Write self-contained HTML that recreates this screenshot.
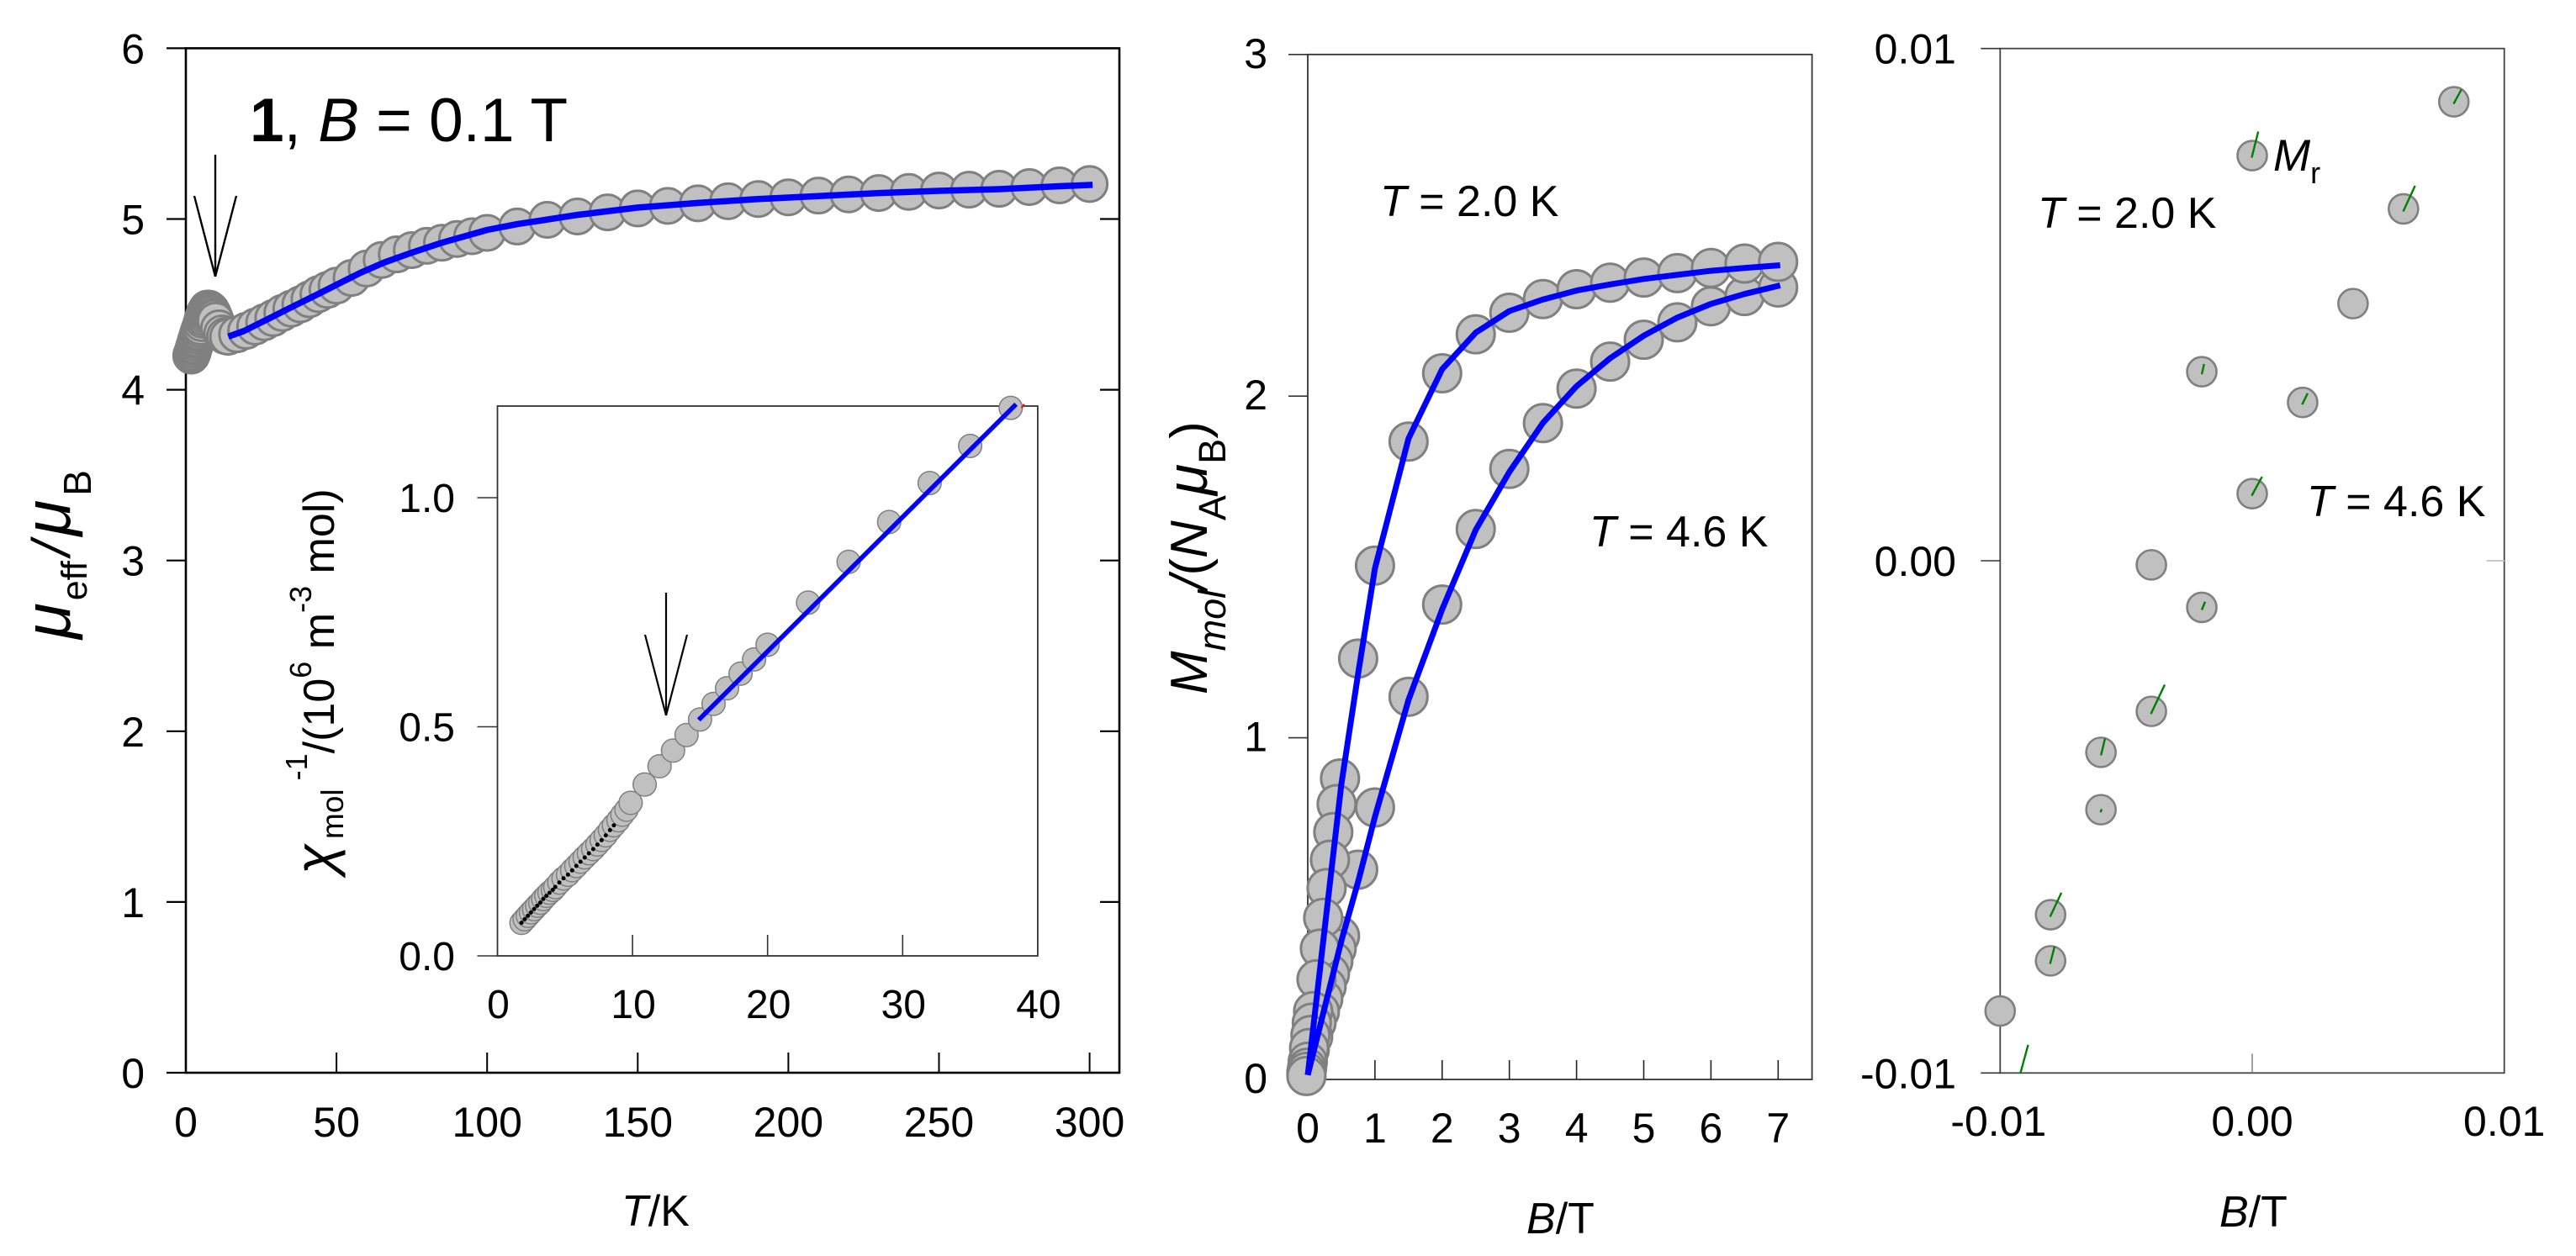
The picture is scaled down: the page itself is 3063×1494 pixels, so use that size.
<!DOCTYPE html>
<html lang="en">
<head>
<meta charset="utf-8">
<title>Magnetic data of compound 1</title>
<style>
html,body{margin:0;padding:0;background:#fff;width:3063px;height:1494px;overflow:hidden}
svg{display:block;font-family:"Liberation Sans",Arial,sans-serif;fill:#000}
text{fill:#000}
</style>
</head>
<body>
<svg id="fig" xmlns="http://www.w3.org/2000/svg" width="3063" height="1494" viewBox="0 0 3063 1494">
  <rect x="0" y="0" width="3063" height="1494" fill="#fff"/>
  <g id="layer-axes"></g>
  <g id="layer-marks"></g>

  <text x="297" y="168" font-size="73"><tspan font-weight="bold">1</tspan>, <tspan font-style="italic">B</tspan> = 0.1 T</text>
  <text x="739" y="1458" font-size="52"><tspan font-style="italic">T</tspan>/K</text>
  <text transform="translate(83,760) rotate(-90)" font-size="78"><tspan font-style="italic">μ</tspan><tspan font-size="43" dx="3" dy="20">eff</tspan><tspan font-size="64" font-style="italic" dx="6" dy="-20">/</tspan><tspan font-style="italic" dx="6">μ</tspan><tspan font-size="46" dx="5" dy="25">B</tspan></text>
  <text transform="translate(397,1040) rotate(-90)" font-size="52"><tspan font-size="66" font-style="italic">χ</tspan><tspan font-size="37" dx="6" dy="11">mol</tspan><tspan font-size="36" dy="-43"> -1</tspan><tspan dy="32">/(10</tspan><tspan font-size="36" dy="-27">6</tspan><tspan dy="27"> m</tspan><tspan font-size="36" dy="-27">-3</tspan><tspan dy="27"> mol)</tspan></text>

  <text x="1815" y="1467" font-size="52"><tspan font-style="italic">B</tspan>/T</text>
  <text transform="translate(1435,826) rotate(-90)" font-size="62"><tspan font-style="italic">M</tspan><tspan font-size="45" font-style="italic" dy="22">mol</tspan><tspan font-style="italic" dy="-22">/</tspan>(<tspan font-style="italic">N</tspan><tspan font-size="45" dy="22">A</tspan><tspan font-size="68" font-style="italic" dy="-22">μ</tspan><tspan font-size="45" dy="22">B</tspan><tspan dy="-22">)</tspan></text>
  <text x="1641" y="257" font-size="52"><tspan font-style="italic">T</tspan> = 2.0 K</text>
  <text x="1890" y="650" font-size="52"><tspan font-style="italic">T</tspan> = 4.6 K</text>

  <text x="2639" y="1459" font-size="52"><tspan font-style="italic">B</tspan>/T</text>
  <text x="2423" y="271" font-size="52"><tspan font-style="italic">T</tspan> = 2.0 K</text>
  <text x="2743" y="614" font-size="52"><tspan font-style="italic">T</tspan> = 4.6 K</text>
  <text x="2703" y="203" font-size="53"><tspan font-style="italic">M</tspan><tspan font-size="36" dy="15">r</tspan></text>

  <g fill="none" stroke="#000" stroke-width="2.4">
    <line x1="256" y1="184" x2="256" y2="329"/>
    <line x1="231" y1="233" x2="256" y2="329"/>
    <line x1="281" y1="233" x2="256" y2="329"/>
  </g>
  <g fill="none" stroke="#000" stroke-width="2.2">
    <line x1="792" y1="705" x2="792" y2="851"/>
    <line x1="767" y1="755" x2="792" y2="851"/>
    <line x1="817" y1="755" x2="792" y2="851"/>
  </g>
</svg>
<script>
// ---------- main panel: mu_eff vs T ----------
const mainXTicks = [0, 50, 100, 150, 200, 250, 300];
const mainYTicks = [0, 1, 2, 3, 4, 5, 6];
const mainT = [1.78, 2.02, 2.25, 2.48, 2.71, 2.94, 3.17, 3.39, 3.62, 3.85, 4.1, 4.28, 4.58, 4.89, 5.22, 5.53, 5.84, 6.15, 6.46, 6.77, 7.09, 7.4, 7.71, 8.02, 8.33, 8.62, 8.95, 9.25, 9.55, 9.86, 11, 12, 13, 14, 17, 20, 23, 26, 29, 32, 35, 38, 41, 44, 47, 50, 55, 60, 65, 70, 75, 80, 85, 90, 95, 100, 110, 120, 130, 140, 150, 160, 170, 180, 190, 200, 210, 220, 230, 240, 250, 260, 270, 280, 290, 300];
const mainMu = [4.2, 4.21, 4.22, 4.235, 4.25, 4.26, 4.275, 4.29, 4.3, 4.315, 4.33, 4.34, 4.355, 4.37, 4.39, 4.41, 4.425, 4.44, 4.455, 4.465, 4.475, 4.475, 4.475, 4.47, 4.465, 4.455, 4.445, 4.43, 4.42, 4.405, 4.36, 4.33, 4.315, 4.31, 4.325, 4.345, 4.37, 4.395, 4.42, 4.45, 4.475, 4.5, 4.53, 4.56, 4.585, 4.61, 4.655, 4.71, 4.76, 4.793, 4.818, 4.843, 4.861, 4.883, 4.899, 4.919, 4.956, 4.995, 5.015, 5.039, 5.062, 5.077, 5.092, 5.104, 5.117, 5.127, 5.137, 5.144, 5.152, 5.159, 5.167, 5.172, 5.177, 5.187, 5.197, 5.205];
const mainFitT = [14.1, 19.3, 26.7, 36, 43.5, 50.9, 58.3, 65.8, 75, 85, 100, 110, 130, 150, 170, 190, 210, 230, 250, 270, 290, 301];
const mainFitMu = [4.311, 4.344, 4.409, 4.492, 4.557, 4.623, 4.688, 4.745, 4.803, 4.861, 4.936, 4.97, 5.024, 5.067, 5.094, 5.117, 5.134, 5.152, 5.165, 5.175, 5.192, 5.2];

// ---------- inset: inverse susceptibility vs T ----------
const insetXTicks = [0, 10, 20, 30, 40];
const insetYTicks = [0, 0.5, 1];
const insetT = [1.78, 2.02, 2.25, 2.48, 2.71, 2.94, 3.17, 3.39, 3.62, 3.85, 4.1, 4.28, 4.58, 4.89, 5.22, 5.53, 5.84, 6.15, 6.46, 6.77, 7.09, 7.4, 7.71, 8.02, 8.33, 8.62, 8.95, 9.25, 9.55, 9.86, 10.9, 12, 13, 14, 15, 16, 17, 18, 19, 20, 23, 26, 29, 32, 35, 38];
const insetChi = [0.072, 0.08, 0.0875, 0.095, 0.102, 0.1095, 0.116, 0.124, 0.131, 0.138, 0.144, 0.15, 0.16, 0.169, 0.177, 0.187, 0.196, 0.2055, 0.215, 0.224, 0.233, 0.243, 0.253, 0.263, 0.275, 0.285, 0.296, 0.308, 0.319, 0.334, 0.374, 0.414, 0.448, 0.482, 0.516, 0.55, 0.584, 0.616, 0.647, 0.679, 0.771, 0.86, 0.947, 1.032, 1.113, 1.196];
const insetDotT = [1.78, 2.02, 2.25, 2.48, 2.71, 2.94, 3.17, 3.39, 3.62, 3.85, 4.1, 4.28, 4.58, 4.89, 5.22, 5.53, 5.84, 6.15, 6.46, 6.77, 7.09, 7.4, 7.71, 8.02, 8.33, 8.62];
const insetDotChi = [0.0722, 0.0801, 0.0875, 0.0948, 0.1021, 0.1095, 0.1162, 0.1242, 0.1309, 0.1376, 0.1443, 0.1504, 0.1602, 0.1694, 0.1774, 0.1866, 0.1963, 0.2055, 0.2147, 0.2239, 0.233, 0.2428, 0.2526, 0.263, 0.2746, 0.2849];
const insetFitT = [14.9, 38.4];
const insetFitChi = [0.515, 1.204];
const insetRedT = [38.8, 39];
const insetRedChi = [1.196, 1.204];

// ---------- hysteresis panel: M vs B ----------
const hystXTicks = [0, 1, 2, 3, 4, 5, 6, 7];
const hystYTicks = [0, 1, 2, 3];
const lowerB = [1.5, 2, 2.5, 3, 3.5, 4, 4.5, 5, 5.5, 6, 6.5, 7, 1, 0.75, 0.48, 0.43, 0.38, 0.33, 0.28, 0.23, 0.18, 0.13, 0.08, 0.03, 0, -0.02];
const lowerM = [1.12, 1.39, 1.611, 1.787, 1.921, 2.022, 2.101, 2.165, 2.216, 2.263, 2.293, 2.318, 0.796, 0.614, 0.42, 0.383, 0.346, 0.309, 0.272, 0.236, 0.199, 0.166, 0.125, 0.088, 0.052, 0.018];
const upperB = [1.5, 2, 2.5, 3, 3.5, 4, 4.5, 5, 5.5, 6, 6.5, 7, 1, 0.75, 0.48, 0.43, 0.38, 0.33, 0.28, 0.23, 0.18, 0.13, 0.08, 0.06, 0.04, 0.02, 0, -0.01, -0.02, -0.02];
const upperM = [1.867, 2.067, 2.181, 2.244, 2.284, 2.313, 2.332, 2.347, 2.36, 2.375, 2.388, 2.393, 1.504, 1.232, 0.881, 0.806, 0.724, 0.643, 0.56, 0.473, 0.383, 0.293, 0.2, 0.166, 0.13, 0.092, 0.052, 0.034, 0.022, 0.01];
const fitB = [0, 0.5, 0.75, 1, 1.5, 2, 2.5, 3, 3.5, 4, 4.5, 5, 5.5, 6, 6.5, 7.03];
const upperFitM = [0.013, 0.865, 1.188, 1.496, 1.876, 2.079, 2.186, 2.249, 2.283, 2.309, 2.327, 2.343, 2.355, 2.367, 2.375, 2.383];
const lowerFitM = [0.013, 0.406, 0.579, 0.769, 1.111, 1.376, 1.609, 1.778, 1.922, 2.029, 2.111, 2.177, 2.23, 2.27, 2.299, 2.324];

// ---------- remanence zoom panel ----------
const zoomXTicks = [-0.01, 0, 0.01];
const zoomYTicks = [-0.01, 0, 0.01];
const zoomTickLabels = ['-0.01', '0.00', '0.01'];
const zoomB = [0.008, 0, 0.006, 0.004, -0.002, 0.002, 0, -0.004, -0.002, -0.004, -0.006, -0.006, -0.008, -0.008, -0.01];
const zoomM = [0.00896, 0.00791, 0.00687, 0.00502, 0.00369, 0.00309, 0.00131, -0.00008, -0.00091, -0.00294, -0.00374, -0.00486, -0.00691, -0.00781, -0.00879];
const calcStartB = [0.00799, -0.00002, 0.00599, -0.002, 0.00198, -0.00002, -0.002, -0.00402, -0.006, -0.00602, -0.00802, -0.00802, -0.0092];
const calcStartM = [0.00892, 0.00787, 0.00682, 0.00364, 0.00305, 0.00127, -0.00096, -0.00299, -0.0038, -0.00491, -0.00695, -0.00787, -0.01001];
const calcEndB = [0.0083, 0.00024, 0.00646, -0.00191, 0.0022, 0.00039, -0.00187, -0.00347, -0.00584, -0.00597, -0.00757, -0.00784, -0.00889];
const calcEndM = [0.0092, 0.00838, 0.00732, 0.00384, 0.00327, 0.00164, -0.0008, -0.00242, -0.00347, -0.00485, -0.00648, -0.00753, -0.00945];

// ---------- axis functions ----------
const mainX = t => 221 + 3.582 * t;
const mainY = v => 1276 - 203.1 * v;
const insetX = t => 591.5 + 16.06 * t;
const insetY = v => 1137 - 545 * v;
const hystX = b => 1555 + 79.9 * b;
const hystY = m => 1284 - 406.4 * m;
const zoomX = b => 2678 + 29970 * b;
const zoomY = m => 667 - 60930 * m;

const NS = 'http://www.w3.org/2000/svg';
const axesLayer = document.getElementById('layer-axes');
const marksLayer = document.getElementById('layer-marks');

function makeLine(parent, x1, y1, x2, y2, color, width) {
  const el = document.createElementNS(NS, 'line');
  el.setAttribute('x1', x1);
  el.setAttribute('y1', y1);
  el.setAttribute('x2', x2);
  el.setAttribute('y2', y2);
  el.setAttribute('stroke', color);
  el.setAttribute('stroke-width', width);
  parent.appendChild(el);
  return el;
}
function makeLabel(parent, x, y, str, anchor, size) {
  const el = document.createElementNS(NS, 'text');
  el.setAttribute('x', x);
  el.setAttribute('y', y);
  el.setAttribute('text-anchor', anchor);
  el.setAttribute('font-size', size);
  el.textContent = str;
  parent.appendChild(el);
  return el;
}
function makeCircle(parent, x, y, r, sw) {
  const el = document.createElementNS(NS, 'circle');
  el.setAttribute('cx', x);
  el.setAttribute('cy', y);
  el.setAttribute('r', r);
  el.setAttribute('fill', '#c0c0c0');
  el.setAttribute('stroke', '#808080');
  el.setAttribute('stroke-width', sw);
  parent.appendChild(el);
  return el;
}
function makeDot(parent, x, y, r) {
  const el = document.createElementNS(NS, 'circle');
  el.setAttribute('cx', x);
  el.setAttribute('cy', y);
  el.setAttribute('r', r);
  el.setAttribute('fill', '#000');
  parent.appendChild(el);
  return el;
}
function makePath(parent, xs, ys, fx, fy, color, width) {
  const el = document.createElementNS(NS, 'polyline');
  el.setAttribute('points', xs.map((v, i) => fx(v).toFixed(1) + ',' + fy(ys[i]).toFixed(1)).join(' '));
  el.setAttribute('fill', 'none');
  el.setAttribute('stroke', color);
  el.setAttribute('stroke-width', width);
  el.setAttribute('stroke-linejoin', 'round');
  parent.appendChild(el);
  return el;
}
function makeFrame(parent, x0, y0, x1, y1, color, width) {
  const el = document.createElementNS(NS, 'rect');
  el.setAttribute('x', x0);
  el.setAttribute('y', y0);
  el.setAttribute('width', x1 - x0);
  el.setAttribute('height', y1 - y0);
  el.setAttribute('fill', 'none');
  el.setAttribute('stroke', color);
  el.setAttribute('stroke-width', width);
  parent.appendChild(el);
  return el;
}

// ---------- main panel axes ----------
const mainFrame = makeFrame(axesLayer, mainX(0), mainY(6), 1331, mainY(0), '#000', 2.6);


mainXTicks.forEach(v => {
  if (v !== 0) {
    const tick = makeLine(axesLayer, mainX(v), mainY(0), mainX(v), mainY(0) - 24, '#000', 2);
    
    
  }
  const lab = makeLabel(axesLayer, mainX(v), 1352, String(v), 'middle', 50);
  
  
});
mainYTicks.forEach(v => {
  const tick = makeLine(axesLayer, mainX(0) - 23, mainY(v), mainX(0), mainY(v), '#000', 2.2);
  
  
  if (v > 0 && v < 6) {
    const rtick = makeLine(axesLayer, 1308, mainY(v), 1331, mainY(v), '#000', 2.2);
    
    
  }
  const lab = makeLabel(axesLayer, 172, mainY(v) + 18, String(v), 'end', 50);
  
  
});

// ---------- inset axes ----------
const insetFrame = makeFrame(axesLayer, insetX(0), insetY(1.2), insetX(40), insetY(0), '#333', 1.8);


insetXTicks.forEach(v => {
  if (v !== 0 && v !== 40) {
    const tick = makeLine(axesLayer, insetX(v), insetY(0), insetX(v), insetY(0) - 25, '#333', 1.6);
    
    
  }
  const lab = makeLabel(axesLayer, insetX(v) + 1, 1211, String(v), 'middle', 48);
  
  
});
insetYTicks.forEach(v => {
  const tick = makeLine(axesLayer, insetX(0) - 24, insetY(v), insetX(0), insetY(v), '#333', 1.6);
  
  
  const lab = makeLabel(axesLayer, 541, insetY(v) + 17, v.toFixed(1), 'end', 48);
  
  
});

// ---------- hysteresis axes ----------
const hystFrame = makeFrame(axesLayer, hystX(0), hystY(3), 2154.6, hystY(0), '#333', 1.8);


hystXTicks.forEach(v => {
  if (v !== 0) {
    const tick = makeLine(axesLayer, hystX(v), hystY(0), hystX(v), hystY(0) - 23, '#222', 1.6);
    
    
  }
  const lab = makeLabel(axesLayer, hystX(v), 1359, String(v), 'middle', 50);
  
  
});
hystYTicks.forEach(v => {
  const tick = makeLine(axesLayer, hystX(0) - 23, hystY(v), hystX(0), hystY(v), '#333', 1.6);
  
  
  const lab = makeLabel(axesLayer, 1507, hystY(v) + 16, String(v), 'end', 50);
  
  
});

// ---------- remanence zoom axes ----------
const zoomFrame = makeFrame(axesLayer, zoomX(-0.01), zoomY(0.01), zoomX(0.01), zoomY(-0.01), '#444', 1.8);


zoomXTicks.forEach((v, i) => {
  if (v === 0) {
    const tick = makeLine(axesLayer, zoomX(v), zoomY(-0.01), zoomX(v), zoomY(-0.01) - 23, '#777', 1.4);
    
    
  }
  const lab = makeLabel(axesLayer, zoomX(v) - (v < 0 ? 2 : 0), 1351, zoomTickLabels[i], 'middle', 50);
  
  
});
zoomYTicks.forEach((v, i) => {
  const tick = makeLine(axesLayer, zoomX(-0.01) - 23, zoomY(v), zoomX(-0.01), zoomY(v), '#333', 1.6);
  
  
  const lab = makeLabel(axesLayer, 2326, zoomY(v) + 18, zoomTickLabels[i], 'end', 50);
  
  
});
const zoomRightTick = makeLine(axesLayer, zoomX(0.01) - 21, zoomY(0), zoomX(0.01), zoomY(0), '#c8c8c8', 2);



// ---------- main marks ----------
mainT.forEach((t, i) => {
  const c = makeCircle(marksLayer, mainX(t), mainY(mainMu[i]), 21, 3);
  
  
});
const mainFit = makePath(marksLayer, mainFitT, mainFitMu, mainX, mainY, '#0000ff', 7.5);



// ---------- inset marks ----------
insetT.forEach((t, i) => {
  const c = makeCircle(marksLayer, insetX(t), insetY(insetChi[i]), 13.8, 1.5);
  
  
});
insetDotT.forEach((t, i) => {
  const d = makeDot(marksLayer, insetX(t), insetY(insetDotChi[i]), 2.5);
  
  
});
const insetRed = makePath(marksLayer, insetRedT, insetRedChi, insetX, insetY, '#ff0000', 2);


const insetFit = makePath(marksLayer, insetFitT, insetFitChi, insetX, insetY, '#0000ff', 5.5);



// ---------- hysteresis marks ----------
lowerB.forEach((b, i) => {
  const c = makeCircle(marksLayer, hystX(b), hystY(lowerM[i]), 22.5, 3);
  
  
});
upperB.forEach((b, i) => {
  const c = makeCircle(marksLayer, hystX(b), hystY(upperM[i]), 22.5, 3);
  
  
});
const lowerFit = makePath(marksLayer, fitB, lowerFitM, hystX, hystY, '#0000ff', 7);


const upperFit = makePath(marksLayer, fitB, upperFitM, hystX, hystY, '#0000ff', 7);



// ---------- zoom marks ----------
zoomB.forEach((b, i) => {
  const c = makeCircle(marksLayer, zoomX(b), zoomY(zoomM[i]), 17.5, 2.6);
  
  
});
calcStartB.forEach((b, i) => {
  const s = makeLine(marksLayer, zoomX(b), zoomY(calcStartM[i]), zoomX(calcEndB[i]), zoomY(calcEndM[i]), '#008000', 2.4);
  
  
});
</script>
</body>
</html>
